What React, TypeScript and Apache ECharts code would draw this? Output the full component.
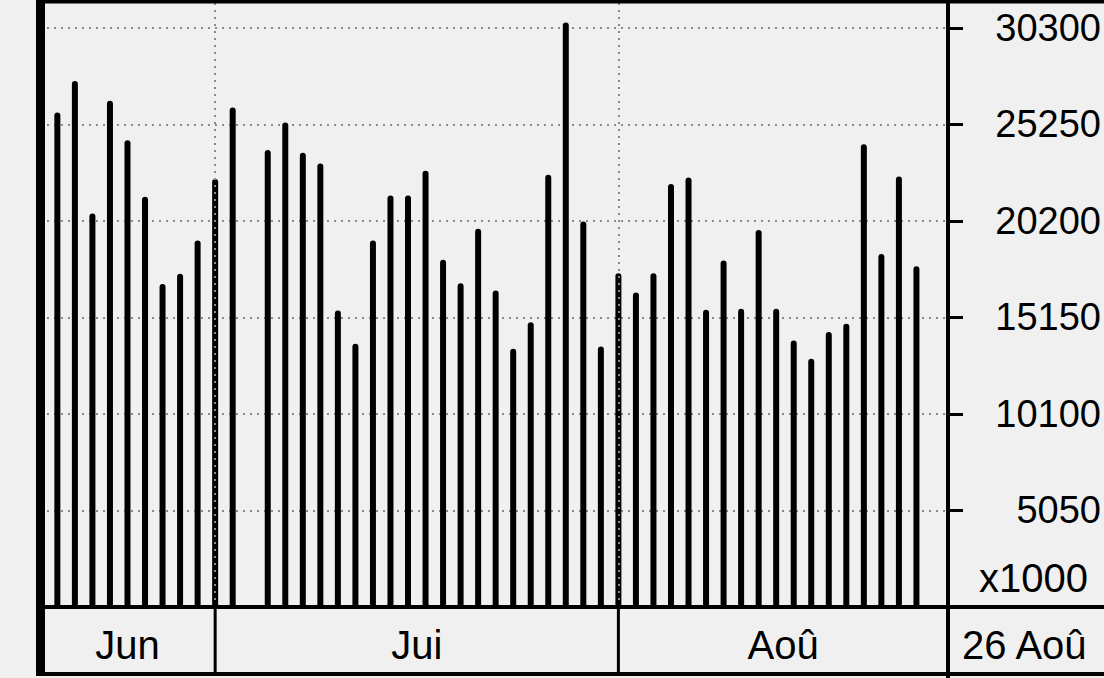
import React, { useEffect, useRef } from "react";
import * as echarts from "echarts";

// Trading days shown (dd/mm)
const days = [
  "18/06", "19/06", "20/06", "21/06", "24/06", "25/06", "26/06", "27/06", "28/06",
  "01/07", "02/07", "03/07", "04/07", "05/07", "08/07", "09/07", "10/07", "11/07", "12/07",
  "15/07", "16/07", "17/07", "18/07", "19/07", "22/07", "23/07", "24/07", "25/07", "26/07",
  "29/07", "30/07", "31/07",
  "01/08", "02/08", "05/08", "06/08", "07/08", "08/08", "09/08", "12/08", "13/08", "14/08",
  "15/08", "16/08", "19/08", "20/08", "21/08", "22/08", "23/08", "26/08",
];

// Volumes in thousands (x1000)
const volumes: (number | null)[] = [
  25870, 27520, 20590, 26480, 24420, 21460, 16900, 17430, 19170,
  22390, 26130, null, 23900, 25340, 23760, 23200, 15510, 13770, 19170,
  21520, 21520, 22820, 18160, 16940, 19780, 16550, 13510, 14900, 22610,
  30570, 20170, 13630,
  17460, 16450, 17460, 22130, 22470, 15550, 18120, 15600, 19720, 15600,
  13940, 12990, 14380, 14820, 24210, 18470, 22520, 17820,
];

const monthLabels: Record<string, string> = { "06": "Jun", "07": "Jui", "08": "Aoû" };
const yInterval = 5050;
const yMax = 31700;
const unitLabel = "x1000";
const currentDateLabel = "26 Aoû";

export default function App() {
  const ref = useRef<HTMLDivElement>(null);

  useEffect(() => {
    const el = ref.current;
    if (!el) return;
    const chart = echarts.init(el, null, { renderer: "svg", width: 1104, height: 678 });
    const font = "'Liberation Sans', Arial, Helvetica, sans-serif";
    const W = chart.getWidth();
    const H = chart.getHeight();
    const GL = 40, GR = 156, GT = 1, GB = 71;
    const xMin = -0.99;
    const xMax = 50.8;
    const grey = "#8a8a8a";

    // first index of each month
    const monthStarts: { idx: number; key: string }[] = [];
    days.forEach((d, i) => {
      const m = d.split("/")[1];
      if (!monthStarts.length || monthStarts[monthStarts.length - 1].key !== m) {
        monthStarts.push({ idx: i, key: m });
      }
    });

    const barData = volumes
      .map((v, i) => [i, v])
      .filter((p) => p[1] !== null);

    chart.setOption({
      animation: false,
      backgroundColor: "#f0f0f0",
      grid: {
        left: GL, right: GR, top: GT, bottom: GB,
        outerBoundsMode: "none",
        containLabel: false,
        show: true, borderColor: "#000", borderWidth: 4, backgroundColor: "transparent",
      },
      xAxis: { type: "value", min: xMin, max: xMax, show: false },
      yAxis: {
        type: "value",
        position: "right",
        min: 0,
        max: yMax,
        interval: yInterval,
        axisLine: { show: true, onZero: false, lineStyle: { color: "#000", width: 4 } },
        axisTick: { show: true, length: 15, lineStyle: { color: "#000", width: 3 } },
        axisLabel: {
          formatter: (v: number) => (v > 0 && v % yInterval === 0 ? String(v) : ""),
          align: "right",
          margin: 153,
          fontSize: 38,
          color: "#000",
          fontFamily: font,
        },
        splitLine: { show: true, lineStyle: { color: grey, width: 2, type: [2, 5] } },
      },
      series: [
        {
          type: "line",
          data: [],
          z: 1,
          silent: true,
          markLine: {
            silent: true,
            symbol: ["none", "none"],
            label: { show: false },
            lineStyle: { color: grey, width: 2, type: [2, 5] },
            data: monthStarts.slice(1).map((m) => ({ xAxis: m.idx })),
          },
        },
        {
          type: "bar",
          data: barData,
          barWidth: 6,
          z: 3,
          itemStyle: { color: "#000", borderRadius: [3, 3, 0, 0] },
        },
      ],
    });

    const px = (v: number) => chart.convertToPixel({ xAxisIndex: 0 }, v) as number;
    const left = px(xMin);
    const right = px(xMax);
    const bandTop = H - GB;
    const bandBottom = 674;
    const bandMid = (bandTop + bandBottom) / 2 + 4;
    const bounds = [left, ...monthStarts.slice(1).map((m) => px(m.idx)), right];

    const graphics: any[] = [
      { type: "line", shape: { x1: 36, y1: 1.5, x2: W, y2: 1.5 }, style: { stroke: "#000", lineWidth: 4 }, z: 10 },
      { type: "line", shape: { x1: 36, y1: bandTop, x2: W, y2: bandTop }, style: { stroke: "#000", lineWidth: 4 }, z: 10 },
      { type: "line", shape: { x1: 36, y1: bandBottom, x2: W, y2: bandBottom }, style: { stroke: "#000", lineWidth: 4 }, z: 10 },
      { type: "rect", shape: { x: 36, y: 0, width: 9, height: 676 }, style: { fill: "#000" }, z: 10 },
      { type: "line", shape: { x1: right, y1: 0, x2: right, y2: H }, style: { stroke: "#000", lineWidth: 4 }, z: 10 },
    ];
    monthStarts.slice(1).forEach((m) => {
      const x = px(m.idx);
      graphics.push({
        type: "line",
        shape: { x1: x, y1: bandTop, x2: x, y2: bandBottom },
        style: { stroke: "#000", lineWidth: 3 },
        z: 10,
      });
    });
    monthStarts.forEach((m, k) => {
      graphics.push({
        type: "text",
        x: (bounds[k] + bounds[k + 1]) / 2,
        y: bandMid,
        style: {
          text: monthLabels[m.key],
          fill: "#000",
          font: `40px ${font}`,
          textAlign: "center",
          textVerticalAlign: "middle",
        },
        z: 11,
      });
    });
    graphics.push({
      type: "text",
      x: right + 14,
      y: bandMid,
      style: { text: currentDateLabel, fill: "#000", font: `40px ${font}`, textAlign: "left", textVerticalAlign: "middle" },
      z: 11,
    });
    graphics.push({
      type: "text",
      x: right + 31,
      y: 578,
      style: { text: unitLabel, fill: "#000", font: `40px ${font}`, textAlign: "left", textVerticalAlign: "middle" },
      z: 11,
    });

    chart.setOption({ graphic: graphics });

    return () => chart.dispose();
  }, []);

  return (
    <div
      ref={ref}
      style={{ position: "fixed", left: 0, top: 0, width: 1104, height: 678 }}
    />
  );
}
